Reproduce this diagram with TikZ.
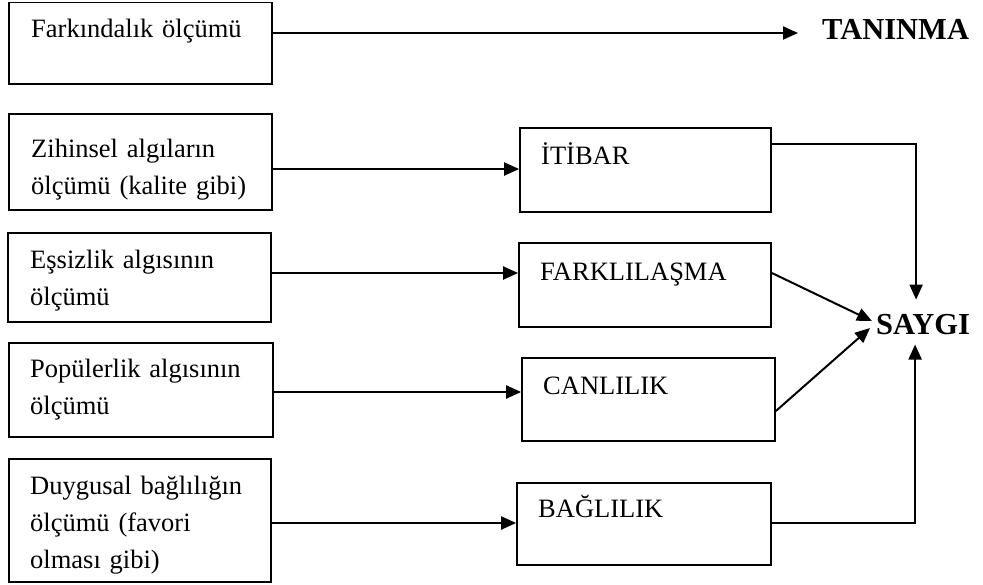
\documentclass[tikz,border=0pt]{standalone}
\usepackage{fontspec}
\setmainfont{Liberation Serif}
\usetikzlibrary{arrows.meta,calc}
\begin{document}
\begin{tikzpicture}[x=1pt,y=-1pt,
  box/.style={draw, line width=1.8pt, inner sep=0pt, rectangle},
  txt/.style={inner sep=0pt, anchor=base west, align=left, text width=240pt,
    font=\fontsize{26.5}{37}\selectfont},
  head/.style={inner sep=0pt, anchor=base west,
    font=\fontsize{30.5}{36}\selectfont\bfseries},
  arr/.style={line width=2.2pt, -{Triangle[length=15pt,width=13pt]}},
  link/.style={line width=2pt, -{Triangle[length=15pt,width=13pt]}}]
\useasboundingbox (0,0) rectangle (983,584);

% measurement boxes on the left
\node[box, minimum width=263pt, minimum height=81.5pt] (b1) at (140.5,43.25) {};
\node[box, minimum width=263pt, minimum height=96pt]   (b2) at (140.5,162) {};
\node[box, minimum width=263pt, minimum height=89pt]   (b3) at (139.5,277.5) {};
\node[box, minimum width=264pt, minimum height=94pt]   (b4) at (141,390) {};
\node[box, minimum width=262pt, minimum height=123pt]  (b5) at (140,520.75) {};

\node[txt] (t1) at (31,37)  {Farkındalık ölçümü};
\node[txt] (t2) at (31,157) {Zihinsel algıların\\ölçümü (kalite gibi)};
\node[txt] (t3) at (30,268) {Eşsizlik algısının\\ölçümü};
\node[txt] (t4) at (30,377) {Popülerlik algısının\\ölçümü};
\node[txt] (t5) at (30,494) {Duygusal bağlılığın\\ölçümü (favori\\olması gibi)};

% brand dimensions
\node[box, minimum width=251pt, minimum height=84pt] (r1) at (645.5,170) {};
\node[box, minimum width=252pt, minimum height=84pt] (r2) at (645,285) {};
\node[box, minimum width=253pt, minimum height=83pt] (r3) at (648.5,399.5) {};
\node[box, minimum width=254pt, minimum height=82pt] (r4) at (644,524) {};

\node[txt] (u1) at (541,164) {İTİBAR};
\node[txt] (u2) at (540,280) {FARKLILAŞMA};
\node[txt] (u3) at (543,394) {CANLILIK};
\node[txt] (u4) at (538,517) {BAĞLILIK};

% outcomes
\node[head] (taninma) at (822,39) {TANINMA};
\node[head] (saygi) at (876,334) {SAYGI};

% measurements lead to dimensions
\draw[arr] (b1.east |- 0,33) -- ($(taninma.west |- 0,33)+(-24,0)$);
\draw[arr] (b2.east |- 0,169) -- (r1.west |- 0,169);
\draw[arr] (b3.east |- 0,273) -- (r2.west |- 0,273);
\draw[arr] (b4.east |- 0,392) -- (r3.west |- 0,392);
\draw[arr] (b5.east |- 0,523) -- (r4.west |- 0,523);

% dimensions lead to esteem
\draw[link] (r1.east |- 0,144) -| ($(saygi.north)+(-7,-14)$);
\draw[link] (r2.east |- 0,273) -- ($(saygi.west)+(-4,-3)$);
\draw[link] (r3.east |- 0,411) -- ($(saygi.west)+(-6,4)$);
\draw[link] (r4.east |- 0,523) -| ($(saygi.south)+(-8,10)$);
\end{tikzpicture}
\end{document}
